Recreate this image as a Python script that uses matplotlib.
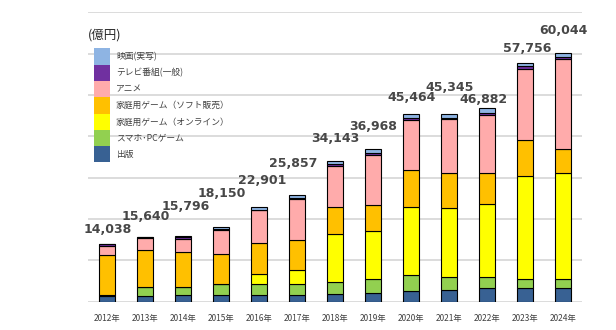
import matplotlib
matplotlib.use("Agg")
import matplotlib.pyplot as plt
from matplotlib.patches import Patch
import numpy as np

plt.rcParams['font.family'] = ['Noto Sans CJK JP', 'DejaVu Sans']

years = ["2012年", "2013年", "2014年", "2015年", "2016年", "2017年", "2018年",
         "2019年", "2020年", "2021年", "2022年", "2023年", "2024年"]
totals = ["14,038", "15,640", "15,796", "18,150", "22,901", "25,857", "34,143",
          "36,968", "45,464", "45,345", "46,882", "57,756", "60,044"]

# segments, bottom to top (億円)
publishing = [1300, 1300, 1550, 1600, 1600, 1600, 1800, 2000, 2580, 2750, 3240, 3240, 3240]
mobile_pc = [200, 2200, 1930, 2650, 2800, 2600, 2900, 3600, 3860, 3140, 2660, 2320, 2320]
console_online = [0, 0, 0, 0, 2200, 3450, 11600, 11450, 16500, 16660, 17770, 24870, 25600]
console_soft = [9700, 8900, 8450, 7250, 7650, 7250, 6500, 6450, 9030, 8700, 7340, 8790, 5800]
anime = [2340, 2990, 3270, 5950, 7900, 9900, 10100, 12000, 12100, 12900, 14260, 17100, 21770]
tv = [500, 250, 500, 100, 100, 250, 450, 480, 400, 400, 400, 630, 340]
movie = [0, 0, 100, 600, 650, 800, 800, 970, 970, 800, 1210, 820, 970]

series = [
    ("出版", publishing, "#386193"),
    ("スマホ･PCゲーム", mobile_pc, "#92D050"),
    ("家庭用ゲーム（オンライン）", console_online, "#FFFF00"),
    ("家庭用ゲーム（ソフト販売）", console_soft, "#FFC000"),
    ("アニメ", anime, "#FFABAB"),
    ("テレビ番組(一般)", tv, "#7030A0"),
    ("映画(実写)", movie, "#8EB4E3"),
]

# where the total labels sit, in pixels from the bar top
label_dy = [14, 21, 30, 33, 27, 31, 22, 22, 16, 27, 8, 14, 23]
label_dx = [1, 1, 3, 1, 3, -4, 0, 0, 1, 1, -4, 2, 0]

fig = plt.figure(figsize=(6.16, 3.30), dpi=100)
ax = fig.add_axes([88 / 616, 1 - 301.7 / 330, 494 / 616, 289.4 / 330])

x = np.arange(len(years))
bottom = np.zeros(len(years))
for name, vals, col in series:
    ax.bar(x, vals, 0.4, bottom=bottom, color=col, edgecolor="black",
           linewidth=0.8, zorder=3)
    bottom += np.array(vals)

for i, lab in enumerate(totals):
    ax.annotate(lab, (x[i], bottom[i]), xytext=(label_dx[i], label_dy[i]),
                textcoords="offset pixels", ha="center", va="center",
                fontsize=9, fontweight="bold", color="#474747",
                family="DejaVu Sans", zorder=5)

ax.set_xlim(-0.5, len(years) - 0.5)
ax.set_ylim(0, 70000)
ax.set_yticks(np.arange(0, 70001, 10000))
ax.set_yticklabels([])
ax.yaxis.grid(True, color="#D9D9D9", linewidth=1.3, zorder=0)
ax.set_axisbelow(True)
ax.tick_params(axis="y", length=0)
ax.set_xticks(x)
ax.set_xticklabels(years, fontsize=6, color="#404040")
ax.tick_params(axis="x", length=0, pad=8.5)
for s in ax.spines.values():
    s.set_visible(False)

fig.text(88 / 616, 1 - 35 / 330, "(億円)", fontsize=9, color="#262626",
         ha="left", va="center")

handles = [Patch(facecolor=col, edgecolor="none", label=name)
           for name, vals, col in reversed(series)]
fig.legend(handles=handles, loc="upper left",
           bbox_to_anchor=(94 / 616, 1 - 48.3 / 330),
           bbox_transform=fig.transFigure, frameon=False, fontsize=6.3,
           handlelength=1.83, handleheight=2.49, labelspacing=0,
           handletextpad=0.69, borderpad=0, borderaxespad=0,
           labelcolor="#404040")

fig.savefig("out.png", dpi=100)
